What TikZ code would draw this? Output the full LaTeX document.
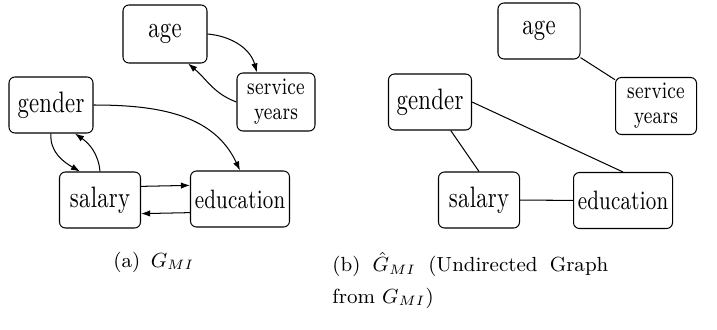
\documentclass[tikz,border=0pt]{standalone}
\usepackage{fontspec}
\usepackage{graphicx}
\usepackage{tikz}
\usetikzlibrary{arrows.meta}
\newfontfamily\boxfont{Latin Modern Roman}[LetterSpace=1.0]
\newcommand{\tall}[1]{\scalebox{1}[1.3]{#1}}
\newcommand{\pxl}{0.44pt}

\begin{document}
\begin{tikzpicture}[>={Latex[length=4pt,width=2.8pt]}, x=0.44pt, y=-0.44pt,
  vbox/.style={draw, rounded corners=2.6pt, line width=0.45pt, inner sep=0pt,
    minimum height=56*\pxl, font=\boxfont\fontsize{10}{12}\selectfont},
  smallbox/.style={vbox, font=\boxfont\fontsize{8}{11}\selectfont, align=center},
  arc/.style={->, line width=0.45pt},
  link/.style={line width=0.45pt},
  caption/.style={inner sep=0pt, font=\fontsize{9}{11}\selectfont}]
  \useasboundingbox (0,0) rectangle (717,329);
  % (a) directed graph
  \node[vbox, minimum width=84*\pxl, minimum height=58*\pxl] (age) at (165,34) {\tall{age}};
  \node[smallbox, minimum width=78*\pxl, minimum height=58*\pxl] (syears) at (276,102) {\tall{service}\\\tall{years}};
  \node[vbox, minimum width=84*\pxl] (gender) at (51,105) {\tall{gender}};
  \node[vbox, minimum width=81*\pxl] (salary) at (100,200) {\tall{salary}};
  \node[vbox, minimum width=99*\pxl, font=\boxfont\fontsize{9}{11}\selectfont] (educ) at (240,199) {\tall{education}};
  \draw[arc] (age.east) to[out=-5, in=105] (syears.123);
  \draw[arc] (syears.west) to[out=160, in=-40] (age.-52);
  \draw[arc] (gender.east) to[out=0, in=115] (educ.north);
  \draw[arc] (gender.south) to[out=-95, in=150] (salary.125);
  \draw[arc] (salary.north) to[out=95, in=-35] (gender.-50);
  \draw[arc] ([yshift=6pt]salary.east) -- ([yshift=6pt]educ.west);
  \draw[arc] ([yshift=-6pt]educ.west) -- ([yshift=-6pt]salary.east);
  % (b) undirected graph
  \node[vbox, minimum width=82*\pxl] (age2) at (539,31) {\tall{age}};
  \node[smallbox, minimum width=81*\pxl, minimum height=57*\pxl] (syears2) at (656,106) {\tall{service}\\\tall{years}};
  \node[vbox, minimum width=83*\pxl] (gender2) at (430,102) {\tall{gender}};
  \node[vbox, minimum width=81*\pxl] (salary2) at (479,200) {\tall{salary}};
  \node[vbox, minimum width=99*\pxl, font=\boxfont\fontsize{9}{11}\selectfont] (educ2) at (623,200.5) {\tall{education}};
  \foreach \a/\b in {age2/syears2, gender2.east/educ2.north, gender2.-54/salary2.north, salary2/educ2}
    \draw[link] (\a) -- (\b);
  % captions
  \node[caption, anchor=base west] (capa) at (113,267) {(a)\ \,$G_{MI}$};
  \node[caption, anchor=north west, align=left] (capb) at (332,252)
    {\hbox to 121.4pt{(b)\hfill$\hat{G}_{MI}$\hfill(Undirected\hfill Graph}\\[3pt] from $G_{MI}$)};
\end{tikzpicture}
\end{document}
